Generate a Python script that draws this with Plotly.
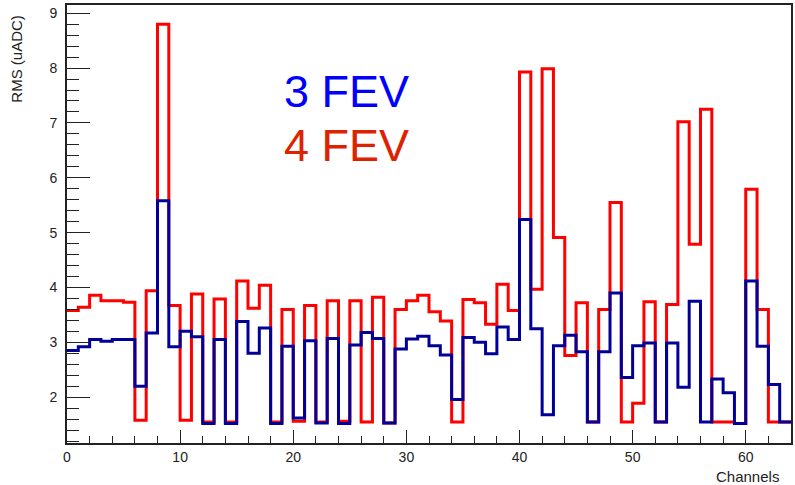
import plotly.graph_objects as go

channels = list(range(64))
rms_4fev = [3.58, 3.64, 3.86, 3.76, 3.76, 3.73, 1.58, 3.94, 8.8, 3.67,
            1.58, 3.88, 1.55, 3.79, 1.55, 4.12, 3.62, 4.04, 1.55, 3.6,
            1.56, 3.67, 1.55, 3.76, 1.56, 3.76, 1.55, 3.82, 1.53, 3.6,
            3.76, 3.86, 3.56, 3.39, 1.55, 3.78, 3.72, 3.33, 4.06, 3.58,
            7.93, 3.97, 7.99, 4.91, 2.76, 3.72, 1.55, 3.6, 5.55, 1.55,
            1.89, 3.74, 1.55, 3.69, 7.02, 4.79, 7.25, 1.55, 1.55, 1.52,
            5.79, 3.6, 1.55, 1.55]
rms_3fev = [2.85, 2.92, 3.05, 3.02, 3.05, 3.05, 2.2, 3.17, 5.58, 2.92,
            3.2, 3.1, 1.52, 3.05, 1.52, 3.38, 2.8, 3.26, 1.52, 2.93,
            1.62, 3.03, 1.53, 3.07, 1.52, 2.95, 3.18, 3.07, 1.53, 2.88,
            3.06, 3.11, 2.94, 2.77, 1.96, 3.09, 3.0, 2.79, 3.28, 3.05,
            5.24, 3.25, 1.68, 2.94, 3.13, 2.83, 1.55, 2.83, 3.9, 2.36,
            2.94, 2.99, 1.55, 2.99, 2.18, 3.75, 1.55, 2.33, 2.08, 1.52,
            4.12, 2.93, 2.23, 1.55]
labels = ["3 FEV", "4 FEV"]

edges = channels + [channels[-1] + 1]

fig = go.Figure()
fig.add_trace(go.Scatter(x=edges, y=rms_4fev + [rms_4fev[-1]], mode="lines",
                         line=dict(shape="hv", color="#ff0000", width=3),
                         name=labels[1], showlegend=False))
fig.add_trace(go.Scatter(x=edges, y=rms_3fev + [rms_3fev[-1]], mode="lines",
                         line=dict(shape="hv", color="#000099", width=3),
                         name=labels[0], showlegend=False))

font = "Liberation Sans, Arial, sans-serif"
fig.update_layout(
    width=795, height=485,
    margin=dict(l=67, r=2, t=5, b=42),
    paper_bgcolor="white", plot_bgcolor="white",
    font=dict(family=font, size=14, color="#222"),
    xaxis=dict(range=[0, 64], showgrid=False, zeroline=False,
               showline=True, linecolor="#222", linewidth=2, mirror=True,
               ticks="inside", ticklen=13, tickwidth=1.3, tickcolor="#222",
               tick0=0, dtick=10,
               minor=dict(ticks="inside", ticklen=7, dtick=2, tick0=0, tickcolor="#222", tickwidth=1.3),
               tickfont=dict(size=14)),
    yaxis=dict(range=[1.165, 9.15], showgrid=False, zeroline=False,
               showline=True, linecolor="#222", linewidth=2, mirror=True,
               ticks="inside", ticklen=23, tickwidth=1.3, tickcolor="#222",
               tick0=0, dtick=1, ticklabelstandoff=5,
               minor=dict(ticks="inside", ticklen=12, dtick=0.2, tick0=0, tickcolor="#222", tickwidth=1.3),
               tickfont=dict(size=14)),
    annotations=[
        dict(text=labels[0], xref="paper", yref="paper", x=(283 - 67) / 726, y=(443 - 91.5) / 438,
             xanchor="left", yanchor="middle", showarrow=False,
             font=dict(family=font, size=45, color="#0000ff")),
        dict(text=labels[1], xref="paper", yref="paper", x=(283 - 67) / 726, y=(443 - 145.5) / 438,
             xanchor="left", yanchor="middle", showarrow=False,
             font=dict(family=font, size=45, color="#dd2200")),
        dict(text="RMS (uADC)", xref="paper", yref="paper", x=(15.5 - 67) / 726, y=(443 - 13) / 438,
             xanchor="center", yanchor="top", textangle=-90, showarrow=False,
             font=dict(family=font, size=15, color="#222")),
        dict(text="Channels", xref="paper", yref="paper", x=(783 - 67) / 726, y=(443 - 476) / 438,
             xanchor="right", yanchor="middle", showarrow=False,
             font=dict(family=font, size=15, color="#222")),
    ],
)

fig.write_html("out.html")
